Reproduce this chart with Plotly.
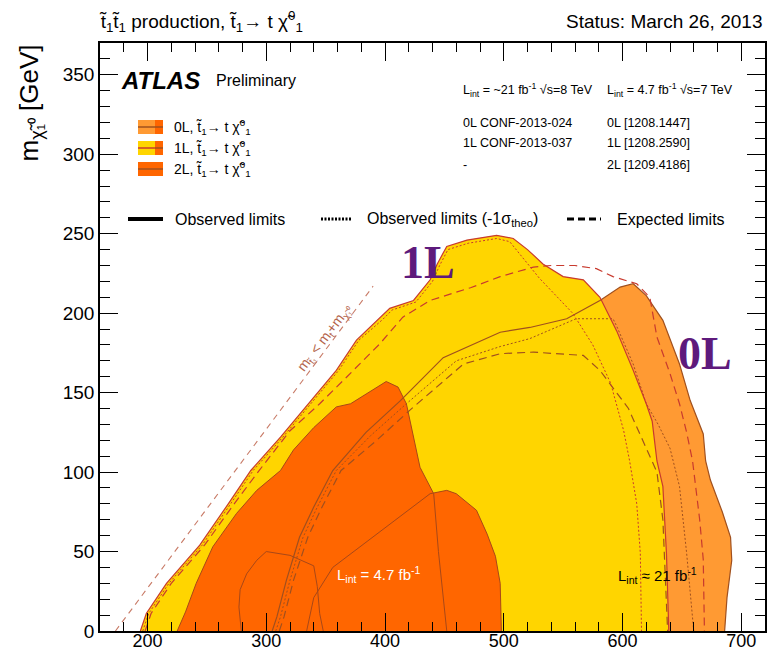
import plotly.graph_objects as go

# ---------------- data (GeV) ----------------
# 0L 8 TeV observed limit (light orange region boundary)
obs0L_x = [305, 309, 317, 328, 340, 356, 384, 413, 449, 497, 522, 553, 581, 598, 609, 620, 634, 648, 657, 668, 670, 674, 684, 691, 692, 688, 686]
obs0L_y = [0, 9, 32, 59, 78, 101, 125, 145, 172, 188, 191, 196.5, 208, 216.4, 218.5, 211, 195.5, 168, 145, 124, 107, 95, 75, 59, 44.5, 21, 0]
# 0L 8 TeV observed -1 sigma theo
obs0Lm_x = [308, 312, 320, 331, 343, 359, 388, 418, 460, 497, 522, 561, 592, 595, 609, 620, 630, 640, 648, 654, 660]
obs0Lm_y = [0, 9, 32, 59, 78, 101, 123, 143, 170, 179, 184, 196.5, 196.5, 192, 168, 143, 130, 115, 91, 49, 0]
# 0L 8 TeV expected
exp0L_x = [311, 315, 323, 335, 347, 363, 393, 421, 466, 497, 525, 567, 581, 605, 617, 629, 634, 637, 638]
exp0L_y = [0, 9, 32, 59, 78, 101, 120, 139, 168, 174.5, 175.5, 173.4, 164, 140, 120, 100, 70, 24, 0]

# 1L 8 TeV observed limit (yellow region boundary)
obs1L_x = [194, 199, 216, 244, 268, 287, 312, 332, 359, 376, 396, 404, 424, 438, 444, 452, 469, 494, 508, 520, 533, 550, 567, 581, 595, 609, 620, 625, 629, 634, 637, 639]
obs1L_y = [0, 11, 30, 54, 80, 101, 122, 140, 164, 183, 197, 203, 208, 221, 231, 242, 246, 249, 247, 240, 231, 223, 221, 210, 189, 164, 143, 132, 107, 91, 49, 0]
# 1L 8 TeV observed -1 sigma theo
obs1Lm_x = [196, 201, 218, 246, 270, 289, 314, 334, 361, 378, 398, 406, 426, 440, 446, 453, 470, 494, 505, 530, 558, 575, 590, 601, 606, 612, 615, 616]
obs1Lm_y = [0, 11, 30, 54, 80, 101, 122, 140, 164, 183, 196, 202, 207, 220, 230, 240, 244, 247, 245, 222, 200, 180, 156, 126, 107, 80, 49, 0]
# 1L 8 TeV expected
exp1L_x = [198, 203, 220, 248, 273, 293, 320, 345, 368, 396, 415, 438, 472, 497, 525, 540, 560, 578, 592, 612, 623, 629, 640, 648, 654, 659, 665, 668, 669]
exp1L_y = [0, 11, 30, 54, 80, 100, 126, 143, 160, 181, 197.5, 208, 216, 223, 229, 230, 230, 228, 223, 218.5, 210, 185, 162, 143, 125, 107, 70, 45, 0]

# 7 TeV (4.7 fb-1) observed regions
r1L7_x = [225, 232, 241, 255, 275, 292, 312, 323, 340, 359, 371, 386, 401, 411, 418, 429.5, 441, 445, 449, 452]
r1L7_y = [0, 12, 30, 53, 74, 88.5, 101, 114, 128, 141, 143, 150, 157, 153.5, 143, 103, 86.4, 50, 19, 0]
r0L7_x = [334, 340, 356, 379, 412, 438, 452, 460, 477, 486, 493, 497, 498]
r0L7_y = [0, 21, 40, 53, 72, 86.4, 88.5, 86.4, 76, 61, 47, 30, 0]
r2L7_x = [279, 277, 278, 283.5, 292, 300, 320, 340, 343, 345, 348]
r2L7_y = [0, 15, 26, 36, 44.5, 50, 47.6, 41, 28, 11, 0]

# kinematic limit m_stop = m_top + m_chi
kin_x = [173, 390]
kin_y = [0, 217]

x_ticks = [200, 300, 400, 500, 600, 700]
y_ticks = [0, 50, 100, 150, 200, 250, 300, 350]

# ---------------- style ----------------
C_0L = "#FF9A33"
C_1L = "#FFD500"
C_7 = "#FF6600"
C_LINE0 = "#A0501E"
C_LINE1 = "#C83A2E"
C_7LINE = "#A84818"
FONT = "Liberation Sans, Arial, sans-serif"

W, H = 767, 652
ML, MR, MT, MB = 100, 2, 43, 21
PW, PH = W - ML - MR, H - MT - MB


def px(x):
    return (x - ML) / PW


def py(y):
    return (H - MB - y) / PH


fig = go.Figure()


def fill(xs, ys, color):
    fig.add_trace(go.Scatter(x=xs, y=ys, mode="lines", fill="toself", fillcolor=color,
                             line=dict(width=0), hoverinfo="skip", showlegend=False))


def line(xs, ys, color, dash="solid", width=1.2):
    fig.add_trace(go.Scatter(x=xs, y=ys, mode="lines",
                             line=dict(color=color, width=width, dash=dash),
                             hoverinfo="skip", showlegend=False))


fill(obs0L_x, obs0L_y, C_0L)
fill(obs1L_x, obs1L_y, C_1L)
fill(r1L7_x, r1L7_y, C_7)
fill(r0L7_x, r0L7_y, C_7)
fill(r2L7_x, r2L7_y, C_7)

line(kin_x, kin_y, "#C87A66", dash="6px,5px", width=1.1)
line(r1L7_x, r1L7_y, C_7LINE, width=1)
line(r0L7_x, r0L7_y, C_7LINE, width=1)
line(r2L7_x, r2L7_y, C_7LINE, width=1)
line(obs0L_x, obs0L_y, C_LINE0, width=1.2)
line(obs0Lm_x, obs0Lm_y, C_LINE0, dash="2px,2px", width=1)
line(exp0L_x, exp0L_y, C_LINE0, dash="8px,5px", width=1.2)
line(obs1L_x, obs1L_y, C_LINE1, width=1.2)
line(obs1Lm_x, obs1Lm_y, C_LINE1, dash="2px,2px", width=1)
line(exp1L_x, exp1L_y, C_LINE1, dash="8px,5px", width=1.2)

shapes = []
ann = []

# legend boxes
rows = [(127, C_0L, C_LINE0), (148, C_1L, C_LINE1), (169, C_7, C_LINE0)]
for yc, cl, lc in rows:
    shapes.append(dict(type="rect", xref="paper", yref="paper", x0=px(138), x1=px(155),
                       y0=py(yc + 7), y1=py(yc - 7), fillcolor=cl, line=dict(width=0)))
    shapes.append(dict(type="rect", xref="paper", yref="paper", x0=px(155), x1=px(163),
                       y0=py(yc + 7), y1=py(yc - 7), fillcolor=C_7, line=dict(width=0)))
    shapes.append(dict(type="line", xref="paper", yref="paper", x0=px(138), x1=px(155),
                       y0=py(yc), y1=py(yc), line=dict(color=lc, width=1.5)))
    shapes.append(dict(type="line", xref="paper", yref="paper", x0=px(155), x1=px(163),
                       y0=py(yc), y1=py(yc), line=dict(color=C_LINE0, width=1.5)))

leg_txt = ["0L, t\u0303<sub>1</sub>\u2192 t \u03c7\u0303<sup>0</sup><sub>1</sub>",
           "1L, t\u0303<sub>1</sub>\u2192 t \u03c7\u0303<sup>0</sup><sub>1</sub>",
           "2L, t\u0303<sub>1</sub>\u2192 t \u03c7\u0303<sup>0</sup><sub>1</sub>"]
for (yc, *_), t in zip(rows, leg_txt):
    ann.append(dict(text=t, x=px(172), y=py(yc), xanchor="left", yanchor="middle",
                    font=dict(size=14, family=FONT, color="black")))

# line-style legend
ly = 219
shapes.append(dict(type="line", xref="paper", yref="paper", x0=px(128), x1=px(163), y0=py(ly), y1=py(ly),
                   line=dict(color="black", width=4)))
shapes.append(dict(type="line", xref="paper", yref="paper", x0=px(321), x1=px(352), y0=py(ly), y1=py(ly),
                   line=dict(color="black", width=3, dash="2px,1.5px")))
shapes.append(dict(type="line", xref="paper", yref="paper", x0=px(567), x1=px(601), y0=py(ly), y1=py(ly),
                   line=dict(color="black", width=3, dash="7px,4px")))
for xx, t in [(173, "Observed limits"), (365, "Observed limits (-1\u03c3<sub>theo</sub>)"), (615, "Expected limits")]:
    ann.append(dict(text=t, x=px(xx), y=py(ly), xanchor="left", yanchor="middle",
                    font=dict(size=16, family=FONT, color="black")))

# top-right table
tbl = [
    (461, 90, "L<sub>int</sub> = ~21 fb<sup>-1</sup> \u221as=8 TeV"),
    (605, 90, "L<sub>int</sub> = 4.7 fb<sup>-1</sup> \u221as=7 TeV"),
    (461, 123, "0L CONF-2013-024"), (605, 123, "0L [1208.1447]"),
    (461, 143, "1L CONF-2013-037"), (605, 143, "1L [1208.2590]"),
    (461, 165, "-"), (605, 165, "2L [1209.4186]"),
]
for xx, yy, t in tbl:
    ann.append(dict(text=t, x=px(xx), y=py(yy), xanchor="left", yanchor="middle",
                    font=dict(size=12.5, family=FONT, color="black")))

# ATLAS label
ann.append(dict(text="<b><i>ATLAS</i></b>", x=px(119), y=py(80), xanchor="left", yanchor="middle",
                font=dict(size=24, family=FONT, color="black")))
ann.append(dict(text="Preliminary", x=px(214), y=py(80), xanchor="left", yanchor="middle",
                font=dict(size=16, family=FONT, color="black")))

# titles
ann.append(dict(text="t\u0303<sub>1</sub>t\u0303<sub>1</sub> production, t\u0303<sub>1</sub>\u2192 t \u03c7\u0303<sup>0</sup><sub>1</sub>",
                x=px(97), y=py(22), xanchor="left", yanchor="middle",
                font=dict(size=19, family=FONT, color="black")))
ann.append(dict(text="Status: March 26, 2013", x=px(764), y=py(22), xanchor="right", yanchor="middle",
                font=dict(size=19, family=FONT, color="black")))
ann.append(dict(text="m<sub>\u03c7\u0303\u2081\u2070</sub> [GeV]", x=px(30), y=py(43), xanchor="center", yanchor="top",
                textangle=-90, font=dict(size=26, family=FONT, color="black")))

# region labels
ann.append(dict(text="<b>1L</b>", x=px(428), y=py(262), xanchor="center", yanchor="middle",
                font=dict(size=46, family="Liberation Serif, Times New Roman, serif", color="#5E1A7C")))
ann.append(dict(text="<b>0L</b>", x=px(705), y=py(353), xanchor="center", yanchor="middle",
                font=dict(size=46, family="Liberation Serif, Times New Roman, serif", color="#5E1A7C")))
ann.append(dict(text="L<sub>int</sub> = 4.7 fb<sup>-1</sup>", x=px(379), y=py(574), xanchor="center", yanchor="middle",
                font=dict(size=15, family=FONT, color="white")))
ann.append(dict(text="L<sub>int</sub> \u2248 21 fb<sup>-1</sup>", x=px(657), y=py(575), xanchor="center", yanchor="middle",
                font=dict(size=15, family=FONT, color="black")))
ann.append(dict(text="m<sub>t\u0303\u2081</sub> &lt; m<sub>t</sub>+m<sub>\u03c7\u0303\u2081\u2070</sub>", x=px(325), y=py(338),
                xanchor="center", yanchor="middle", textangle=-53,
                font=dict(size=14, family=FONT, color="#B4644B")))

for a in ann:
    a.setdefault("xref", "paper")
    a.setdefault("yref", "paper")
    a["showarrow"] = False

axis_common = dict(ticks="inside", ticklen=18, tickwidth=1.3, tickcolor="black",
                   showline=True, linecolor="black", linewidth=1.5, mirror="ticks",
                   showgrid=False, zeroline=False, automargin=False)

fig.update_layout(
    width=W, height=H,
    margin=dict(l=ML, r=MR, t=MT, b=MB, pad=0),
    paper_bgcolor="white", plot_bgcolor="white",
    showlegend=False,
    xaxis=dict(range=[160, 720], tickvals=x_ticks, ticklabelstandoff=-7,
               tickfont=dict(size=18, family=FONT, color="black"),
               minor=dict(dtick=20, tick0=0, ticks="inside", ticklen=9, tickwidth=1.1, tickcolor="black"),
               **axis_common),
    yaxis=dict(range=[0, 370], tickvals=y_ticks,
               tickfont=dict(size=19, family=FONT, color="black"),
               minor=dict(dtick=10, tick0=0, ticks="inside", ticklen=10, tickwidth=1.1, tickcolor="black"),
               **axis_common),
    shapes=shapes,
    annotations=ann,
)

fig.write_html("out.html")
